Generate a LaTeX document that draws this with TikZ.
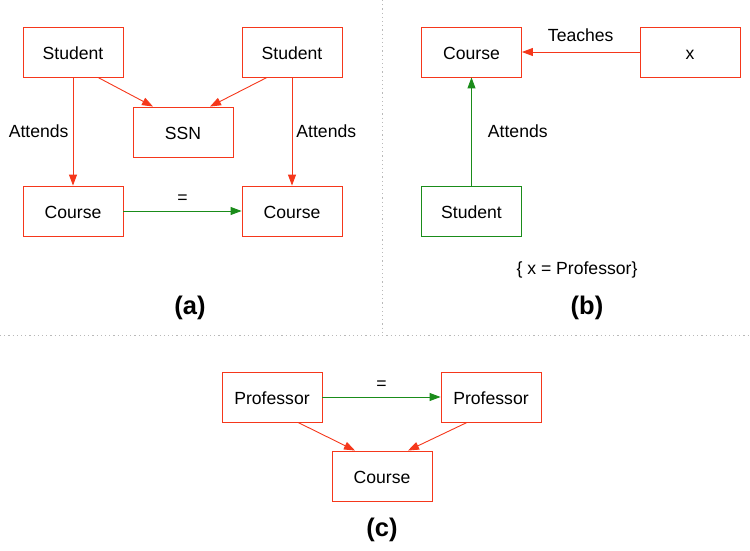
\documentclass[tikz,border=0pt]{standalone}
\usepackage{fontspec}
\setmainfont{Liberation Sans}
\usetikzlibrary{arrows.meta,calc}
\definecolor{ered}{HTML}{F5371B}
\definecolor{egreen}{HTML}{1A8C1A}
\begin{document}
\begin{tikzpicture}[x=1pt,y=-1pt,
  font=\fontsize{17.6}{21}\selectfont,
  entity/.style={draw=ered,line width=0.9pt,minimum width=100pt,minimum height=50pt,inner sep=0pt,
    text height=15.5pt,text depth=0pt},
  gentity/.style={entity,draw=egreen},
  rel/.style={draw=ered,line width=0.9pt,-{Triangle[length=11pt,width=8pt]}},
  grel/.style={rel,draw=egreen},
  lbl/.style={inner sep=0pt},
  panelcap/.style={font=\fontsize{25.5}{28}\selectfont\bfseries,inner sep=0pt},
  divider/.style={draw=gray!55,line width=0.8pt,dash pattern=on 1.2pt off 3pt}]
\useasboundingbox (0,0) rectangle (750,551);

% panel dividers
\coordinate (vtop) at (382,0);
\coordinate (vbot) at (382,333);
\coordinate (hl) at (0,335);
\coordinate (hr) at (748,335);
\draw[divider] (vtop) -- (vbot);
\draw[divider] (hl) -- (hr);

% (a) two students sharing an SSN
\node[entity] (s1) at (73,52) {Student};
\node[entity] (s2) at (292,52) {Student};
\node[entity] (ssn) at (183,132) {SSN};
\node[entity] (c1) at (73,211) {Course};
\node[entity] (c2) at (292,211) {Course};
\draw[rel] ([xshift=25pt]s1.south) -- ([xshift=-30pt]ssn.north);
\draw[rel] ([xshift=-25pt]s2.south) -- ([xshift=27pt]ssn.north);
\draw[rel] (s1) -- node[lbl,left=4pt] {Attends} (c1);
\draw[rel] (s2) -- node[lbl,right=4pt] {Attends} (c2);
\draw[grel] (c1) -- node[lbl,above=7pt] {=} (c2);
\node[panelcap] (capa) at (190,308) {(a)};

% (b) course taught by x and attended by a student
\node[entity] (cb) at (471.5,52) {Course};
\node[entity] (xb) at (690,52) {x};
\node[gentity] (sb) at (471.5,211) {Student};
\draw[rel] (xb) -- node[lbl,above=10pt] {Teaches} (cb);
\draw[grel] (sb) -- node[lbl,right=16pt] {Attends} (cb);
\node[lbl] (cond) at (577,270) {\{ x = Professor\}};
\node[panelcap] (capb) at (587,308) {(b)};

% (c) two professors teaching one course
\node[entity] (p1) at (272,397) {Professor};
\node[entity] (p2) at (491,397) {Professor};
\node[entity] (cc) at (382,476) {Course};
\draw[grel] (p1) -- node[lbl,above=7pt] {=} (p2);
\draw[rel] ([xshift=26pt]p1.south) -- ([xshift=-27pt]cc.north);
\draw[rel] ([xshift=-24pt]p2.south) -- ([xshift=26pt]cc.north);
\node[panelcap] (capc) at (382,530) {(c)};
\end{tikzpicture}
\end{document}
